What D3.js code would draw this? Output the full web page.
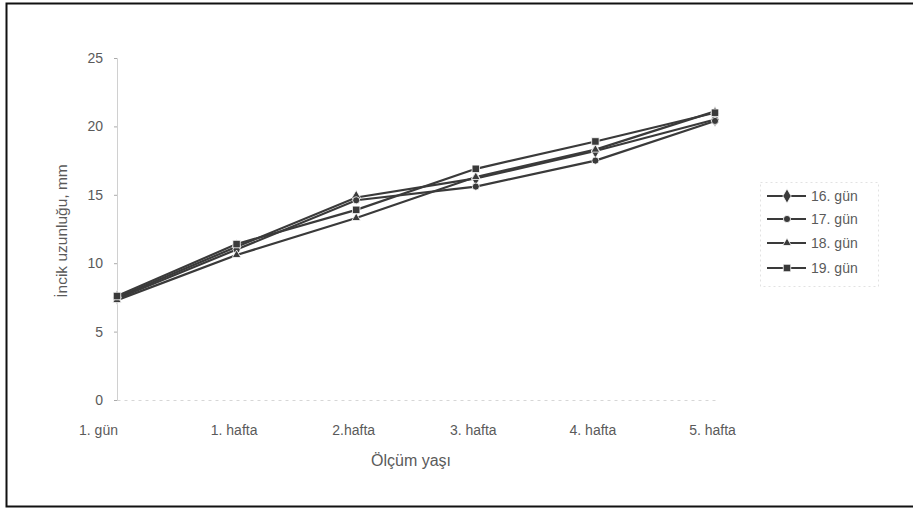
<!DOCTYPE html>
<html><head><meta charset="utf-8">
<script src="https://cdn.jsdelivr.net/npm/d3@7/dist/d3.min.js"></script>
<style>body{margin:0;background:#fff}text{font-family:"Liberation Sans",Arial,sans-serif;fill:#5a5a5a}</style>
</head><body><svg id="c" width="913" height="509"></svg>
<script>
const categories = ["1. gün","1. hafta","2.hafta","3. hafta","4. hafta","5. hafta"];
const seriesNames = ["16. gün","17. gün","18. gün","19. gün"];
const s16 = [7.5, 11.2, 14.8, 16.2, 18.2, 20.5];
const s17 = [7.4, 11.0, 14.6, 15.6, 17.5, 20.4];
const s18 = [7.3, 10.6, 13.3, 16.3, 18.3, 21.1];
const s19 = [7.6, 11.4, 13.9, 16.9, 18.9, 21.0];
const yTicks = [0,5,10,15,20,25];
const markers = [d3.symbolDiamond, d3.symbolCircle, d3.symbolTriangle, d3.symbolSquare];
const markerSizes = [60, 40, 32, 56];
const series = [s16, s17, s18, s19];

const svg = d3.select("#c");
// outer frame
svg.append("rect").attr("x",6.5).attr("y",3.5).attr("width",912).attr("height",503)
  .attr("fill","none").attr("stroke","#111").attr("stroke-width",2);

const x = d3.scalePoint().domain(categories).range([117, 715]);
const y = d3.scaleLinear().domain([0,25]).range([400, 58]);

// y axis
const ya = svg.append("g").attr("transform","translate(117,0)")
  .call(d3.axisLeft(y).tickValues(yTicks).tickSize(3).tickPadding(11));
ya.select(".domain").attr("stroke","#c4c4c4").attr("stroke-width",0.8);
ya.selectAll(".tick line").attr("stroke","#aaa");
ya.selectAll(".tick text").attr("font-size",14).style("fill","#5a5a5a");

// x axis (faint)
const xa = svg.append("g").attr("transform","translate(0,400)")
  .call(d3.axisBottom(x).tickSize(0).tickPadding(25));
xa.select(".domain").attr("stroke","#ccc").attr("stroke-width",0.8).attr("stroke-dasharray","3,4");
xa.selectAll(".tick text").attr("font-size",14).style("fill","#5a5a5a")
  .attr("dx",(d,i)=> i===0 ? -19 : -3);

// axis titles
svg.append("text").attr("transform","translate(67,231) rotate(-90)")
  .attr("text-anchor","middle").attr("font-size",15.5).text("İncik uzunluğu, mm");
svg.append("text").attr("x",411).attr("y",466).attr("text-anchor","middle")
  .attr("font-size",16).text("Ölçüm yaşı");

// lines
const line = d3.line().x((d,i)=>x(categories[i])).y(d=>y(d));
series.forEach((s,k)=>{
  svg.append("path").datum(s).attr("d",line).attr("fill","none")
    .attr("stroke","#3a3a3a").attr("stroke-width",2.2);
});
series.forEach((s,k)=>{
  svg.append("g").selectAll("path").data(s).join("path")
    .attr("transform",(d,i)=>`translate(${x(categories[i])},${y(d)})`)
    .attr("d",d3.symbol().type(markers[k]).size(markerSizes[k]))
    .attr("fill","#3a3a3a").attr("stroke","#fff").attr("stroke-width",0.8);
});

// legend
const lg = svg.append("g");
lg.append("rect").attr("x",760.5).attr("y",182.5).attr("width",118).attr("height",104)
  .attr("fill","none").attr("stroke","#e2e2e2").attr("stroke-dasharray","2,3");
const ly = [196, 219, 243, 268];
seriesNames.forEach((n,k)=>{
  lg.append("line").attr("x1",767).attr("x2",806).attr("y1",ly[k]).attr("y2",ly[k])
    .attr("stroke","#3a3a3a").attr("stroke-width",2);
  lg.append("path").attr("transform",`translate(787,${ly[k]})`)
    .attr("d",d3.symbol().type(markers[k]).size(markerSizes[k]))
    .attr("fill","#3a3a3a").attr("stroke","#fff").attr("stroke-width",0.8);
  lg.append("text").attr("x",811).attr("y",ly[k]+5).attr("font-size",14).text(n);
});
</script></body></html>
